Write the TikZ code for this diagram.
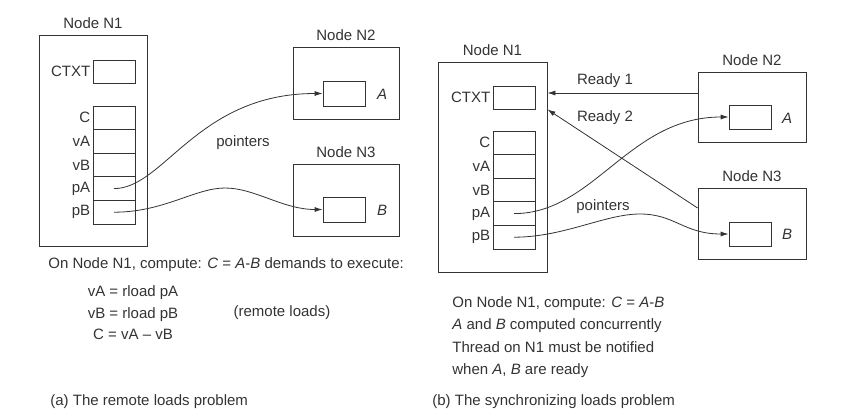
\documentclass[tikz,border=0pt]{standalone}
\usepackage{fontspec}
\setmainfont{Liberation Sans}
\usetikzlibrary{arrows.meta}
\definecolor{ink}{HTML}{333333}

\begin{document}
\begin{tikzpicture}[
	x = 1pt, y = -1pt, line width = 0.8pt, color = ink,
	every node/.style = {font = \fontsize{15}{18}\selectfont},
	frame/.style = {draw, rectangle, inner sep = 0pt},
	cellbox/.style = {frame, minimum width = 42pt, minimum height = 23.6pt},
	tag/.style = {anchor = east, inner sep = 2pt},
	textline/.style = {anchor = west, inner sep = 0pt},
	ptr/.style = {-{Latex[length = 8pt, width = 5pt]}}]
	\useasboundingbox (0,0) rectangle (845,415);

	% (a) The remote loads problem
	\node[frame, minimum width = 108pt, minimum height = 211pt] (N1a) at (93,140.5) {};
	\node[above, inner sep = 6pt] at (N1a.north) {Node N1};
	\node[cellbox, minimum height = 23pt] (ctxta) at (114,71.5) {};
	\node[tag] at (ctxta.west) {CTXT};
	\foreach \v [count = \i] in {C, vA, vB, pA, pB} {
		\node[cellbox] (\v a) at (114, {106 + 23.6*(\i - 0.5)}) {};
		\node[tag] at (\v a.west) {\v};
	}

	\node[frame, minimum width = 106pt, minimum height = 72pt] (N2a) at (346,83) {};
	\node[above, inner sep = 6pt] at (N2a.north) {Node N2};
	\node[frame, minimum width = 42pt, minimum height = 25pt] (Aa) at (344,93.5) {};
	\node at (382,94) {\textit{A}};

	\node[frame, minimum width = 106pt, minimum height = 72pt] (N3a) at (346,200) {};
	\node[above, inner sep = 6pt] at (N3a.north) {Node N3};
	\node[frame, minimum width = 42pt, minimum height = 25pt] (Ba) at (344,209.5) {};
	\node at (382,210) {\textit{B}};

	\draw[ptr] (pAa.center) .. controls +(50,0) and +(-125,0) .. (Aa.west);
	\coordinate (humpa) at (225,188);
	\draw[ptr] (pBa.center) .. controls +(50,0) and +(-30,0) .. (humpa)
		.. controls +(30,0) and +(-40,0) .. (Ba.west);
	\node at (243,143) {pointers};

	\node[textline] (taska) at (48,265) {On Node N1, compute: \textit{C} = \textit{A}-\textit{B} demands to execute:};
	\node[align = center, font = \fontsize{15}{21.5}\selectfont] (stepsa) at (133,313)
		{vA = rload pA\\vB = rload pB\\C = vA -- vB};
	\node (notea) at (282,313) {(remote loads)};
	\node[textline] (capa) at (50,402) {(a) The remote loads problem};

	% (b) The synchronizing loads problem
	\node[frame, minimum width = 109pt, minimum height = 210pt] (N1b) at (492.5,167) {};
	\node[above, inner sep = 6pt] at (N1b.north) {Node N1};
	\node[cellbox, minimum height = 23pt] (ctxtb) at (514,97.5) {};
	\node[tag] at (ctxtb.west) {CTXT};
	\foreach \v [count = \i] in {C, vA, vB, pA, pB} {
		\node[cellbox] (\v b) at (514, {131 + 23.6*(\i - 0.5)}) {};
		\node[tag] at (\v b.west) {\v};
	}

	\node[frame, minimum width = 108pt, minimum height = 70pt] (N2b) at (752,107) {};
	\node[above, inner sep = 6pt] at (N2b.north) {Node N2};
	\node[frame, minimum width = 42pt, minimum height = 24pt] (Ab) at (750,117) {};
	\node at (787,118) {\textit{A}};

	\node[frame, minimum width = 108pt, minimum height = 71pt] (N3b) at (752,223.5) {};
	\node[above, inner sep = 6pt] at (N3b.north) {Node N3};
	\node[frame, minimum width = 42pt, minimum height = 24pt] (Bb) at (750,234) {};
	\node at (787,234) {\textit{B}};

	\coordinate (ready1) at ([yshift = 14pt]N2b.west);
	\draw[ptr] (ready1) -- (ready1 -| N1b.east);
	\draw[ptr] ([yshift = 15.5pt]N3b.west) -- (ctxtb.south -| N1b.east);
	\node at (605,81) {Ready 1};
	\node at (605,118) {Ready 2};

	\draw[ptr] (pAb.center) .. controls +(80,0) and +(-100,0) .. (Ab.west);
	\coordinate (humpb) at (640,214);
	\draw[ptr] (pBb.center) .. controls +(50,0) and +(-35,0) .. (humpb)
		.. controls +(35,0) and +(-45,0) .. (Bb.west);
	\node at (603,207) {pointers};

	\node[anchor = north west, inner sep = 0pt, align = left, font = \fontsize{15}{22.5}\selectfont] (taskb) at (452,296)
		{On Node N1, compute: \textit{C} = \textit{A}-\textit{B}\\
		\textit{A} and \textit{B} computed concurrently\\
		Thread on N1 must be notified\\
		when \textit{A}, \textit{B} are ready};
	\node[textline] (capb) at (432,402) {(b) The synchronizing loads problem};
\end{tikzpicture}
\end{document}
